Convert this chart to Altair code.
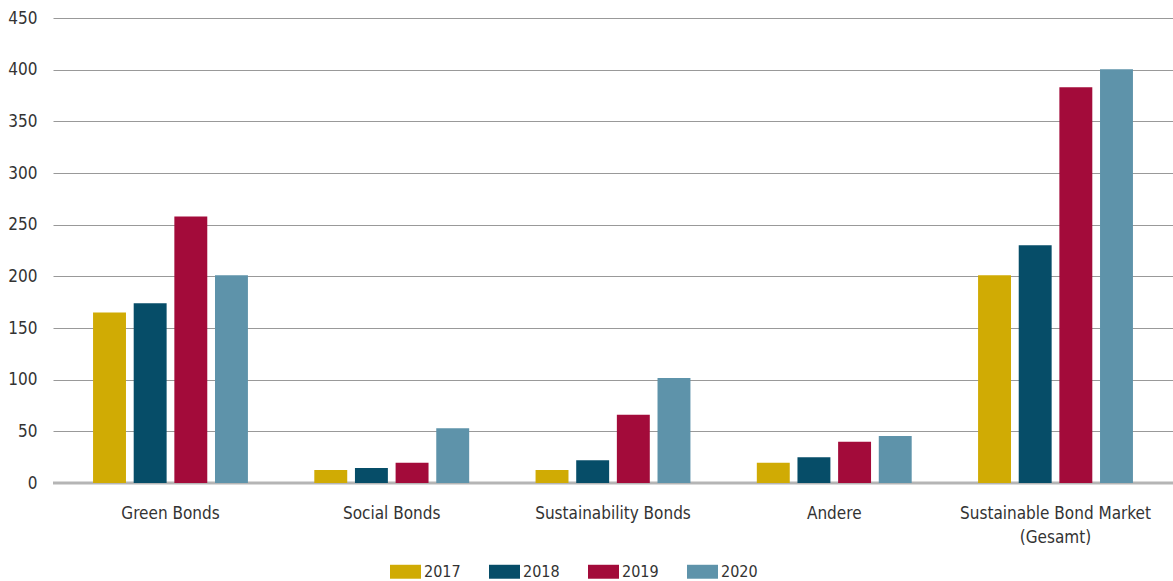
import altair as alt
import pandas as pd

categories = ["Green Bonds", "Social Bonds", "Sustainability Bonds", "Andere", "Sustainable Bond Market|(Gesamt)"]
years = ["2017", "2018", "2019", "2020"]
values = {
    "2017": [165, 12.5, 12.5, 19.5, 201],
    "2018": [174, 14.5, 22, 25, 230],
    "2019": [258, 19.5, 66, 40, 383],
    "2020": [201, 53, 101.5, 45.5, 400.5],
}
colors = ["#D0AB04", "#064D68", "#A30B3A", "#5E93AA"]

rows = []
for y in years:
    for c, v in zip(categories, values[y]):
        rows.append({"Kategorie": c, "Jahr": y, "Wert": v})
df = pd.DataFrame(rows)

FONT = "DejaVu Sans Condensed, Liberation Sans Narrow, Roboto, sans-serif"

bars = alt.Chart(df).mark_bar().encode(
    x=alt.X("Kategorie:N", sort=categories, title=None,
            scale=alt.Scale(paddingInner=0.3, paddingOuter=0.181),
            axis=alt.Axis(labelExpr="split(datum.label, '|')", labelAngle=0, ticks=False,
                          domain=False, labelPadding=22, labelFontSize=17, labelLimit=400,
                          labelColor="#333333", labelFont=FONT, labelLineHeight=24)),
    xOffset=alt.XOffset("Jahr:N", sort=years, scale=alt.Scale(paddingInner=0.19)),
    y=alt.Y("Wert:Q", title=None,
            scale=alt.Scale(domain=[0, 450], nice=False),
            axis=alt.Axis(values=list(range(0, 451, 50)), ticks=False, domain=False,
                          labelPadding=16, labelFontSize=17, labelColor="#333333",
                          labelFont=FONT, gridColor="#999999", gridWidth=1.2)),
    color=alt.Color("Jahr:N", sort=years, scale=alt.Scale(domain=years, range=colors),
                    legend=alt.Legend(title=None, orient="none", direction="horizontal",
                                      columns=4, legendX=337, legendY=538,
                                      symbolType="M-1,-0.45H1V0.45H-1Z", symbolSize=961,
                                      symbolStrokeWidth=0, symbolOpacity=1,
                                      labelFontSize=16, labelFont=FONT, labelColor="#333333",
                                      labelOffset=3, columnPadding=28)),
)

zero = alt.Chart(pd.DataFrame({"y": [0]})).mark_rule(color="#b5b5b5", strokeWidth=3).encode(y="y:Q")

chart = alt.layer(zero, bars).properties(
    width=1120, height=465,
    autosize=alt.AutoSizeParams(type="none"),
    padding={"left": 53, "top": 18, "right": 0, "bottom": 98},
).configure_view(stroke=None).configure_axis(labelFont=FONT)

chart.save("out.html", embed_options={"renderer": "svg", "actions": False})
